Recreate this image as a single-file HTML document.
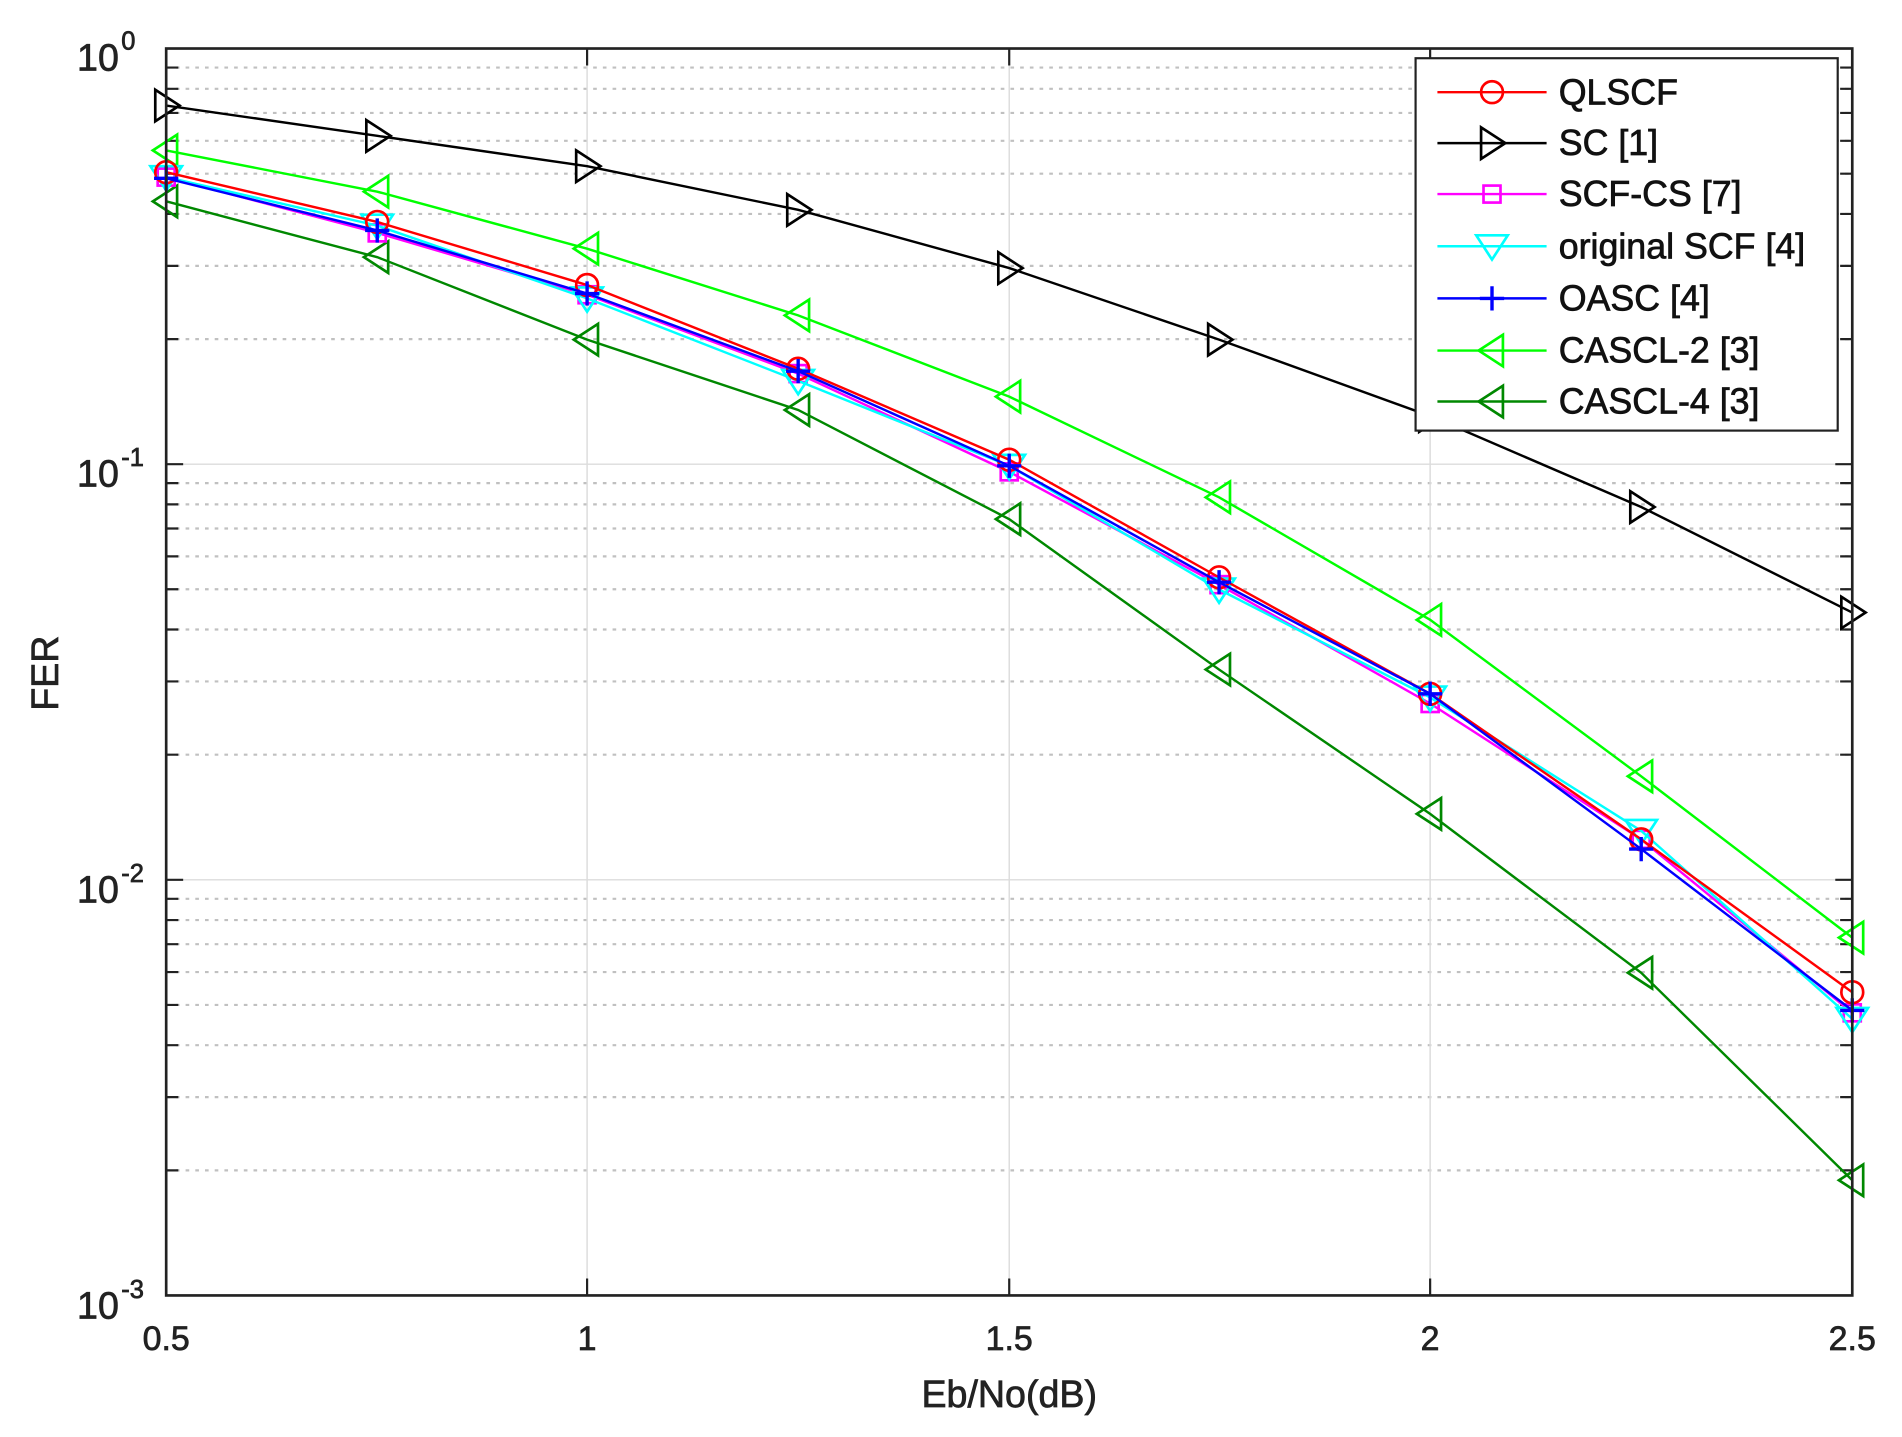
<!DOCTYPE html>
<html><head><meta charset="utf-8"><style>html,body{margin:0;padding:0;background:#fff}svg{display:block}</style></head>
<body>
<svg width="1902" height="1437" viewBox="0 0 1568 1184.7" preserveAspectRatio="none" xmlns="http://www.w3.org/2000/svg" font-family="Liberation Sans, Arial, sans-serif">
<defs>
<marker id="mc" markerUnits="userSpaceOnUse" markerWidth="30" markerHeight="30" refX="15" refY="15" overflow="visible"><circle cx="15" cy="15" r="9" fill="none" stroke="#f00" stroke-width="2.2"/></marker>
<marker id="mr" markerUnits="userSpaceOnUse" markerWidth="30" markerHeight="30" refX="15" refY="15" overflow="visible"><polygon points="6,2 26,15 6,28" fill="none" stroke="#000" stroke-width="2.2"/></marker>
<marker id="ms" markerUnits="userSpaceOnUse" markerWidth="30" markerHeight="30" refX="15" refY="15" overflow="visible"><rect x="8" y="8" width="14" height="14" fill="none" stroke="#f0f" stroke-width="2.2"/></marker>
<marker id="md" markerUnits="userSpaceOnUse" markerWidth="30" markerHeight="30" refX="15" refY="15" overflow="visible"><polygon points="2,6 28,6 15,26" fill="none" stroke="#0ff" stroke-width="2.2"/></marker>
<marker id="mp" markerUnits="userSpaceOnUse" markerWidth="30" markerHeight="30" refX="15" refY="15" overflow="visible"><path d="M5,15H25M15,5V25" stroke="#00f" stroke-width="2.8"/></marker>
<marker id="ml" markerUnits="userSpaceOnUse" markerWidth="30" markerHeight="30" refX="15" refY="15" overflow="visible"><polygon points="24,2 4,15 24,28" fill="none" stroke="#0f0" stroke-width="2.2"/></marker>
<marker id="mg" markerUnits="userSpaceOnUse" markerWidth="30" markerHeight="30" refX="15" refY="15" overflow="visible"><polygon points="24,2 4,15 24,28" fill="none" stroke="#080" stroke-width="2.2"/></marker>
</defs>
<rect x="137" y="40" width="1390" height="1028" fill="#fff"/>
<g stroke="#c0c0c0" stroke-width="1.8" stroke-dasharray="3,5">
<path d="M137 279.6H1527M137 219.2H1527M137 176.4H1527M137 143.2H1527M137 116.1H1527M137 93.1H1527M137 73.2H1527M137 55.7H1527"/>
<path d="M137 622.2H1527M137 561.8H1527M137 519H1527M137 485.8H1527M137 458.7H1527M137 435.7H1527M137 415.8H1527M137 398.3H1527"/>
<path d="M137 964.9H1527M137 904.5H1527M137 861.7H1527M137 828.5H1527M137 801.4H1527M137 778.4H1527M137 758.5H1527M137 741H1527"/>
</g>
<g stroke="#dcdcdc" stroke-width="1.2">
<path d="M137 382.67H1527M137 725.33H1527M484 40V1068M832 40V1068M1179 40V1068"/>
</g>
<g stroke="#222" stroke-width="1.8">
<path d="M137 279.6h10M137 219.2h10M137 176.4h10M137 143.2h10M137 116.1h10M137 93.1h10M137 73.2h10M137 55.7h10M137 622.2h10M137 561.8h10M137 519h10M137 485.8h10M137 458.7h10M137 435.7h10M137 415.8h10M137 398.3h10M137 964.9h10M137 904.5h10M137 861.7h10M137 828.5h10M137 801.4h10M137 778.4h10M137 758.5h10M137 741h10M137 382.67h14M137 725.33h14"/>
<path d="M1527 279.6h-10M1527 219.2h-10M1527 176.4h-10M1527 143.2h-10M1527 116.1h-10M1527 93.1h-10M1527 73.2h-10M1527 55.7h-10M1527 622.2h-10M1527 561.8h-10M1527 519h-10M1527 485.8h-10M1527 458.7h-10M1527 435.7h-10M1527 415.8h-10M1527 398.3h-10M1527 964.9h-10M1527 904.5h-10M1527 861.7h-10M1527 828.5h-10M1527 801.4h-10M1527 778.4h-10M1527 758.5h-10M1527 741h-10M1527 382.67h-14M1527 725.33h-14"/>
<path d="M484 1068v-14M832 1068v-14M1179 1068v-14M484 40v14M832 40v14M1179 40v14"/>
</g>
<g fill="none" stroke-width="2">
<polyline stroke="#000" marker-start="url(#mr)" marker-mid="url(#mr)" marker-end="url(#mr)" points="137,87 311,112 484,137 658,173 832,221 1005,280 1179,343 1353,418 1527,505"/>
<polyline stroke="#0f0" marker-start="url(#ml)" marker-mid="url(#ml)" marker-end="url(#ml)" points="137,124 311,158 484,205 658,260 832,327 1005,410 1179,511 1353,640 1527,773"/>
<polyline stroke="#080" marker-start="url(#mg)" marker-mid="url(#mg)" marker-end="url(#mg)" points="137,166 311,212 484,280 658,338 832,428 1005,552 1179,671 1353,802 1527,973"/>
<polyline stroke="#f0f" marker-start="url(#ms)" marker-mid="url(#ms)" marker-end="url(#ms)" points="137,146 311,192 484,243 658,308 832,389 1005,482 1179,580 1353,692 1527,835"/>
<polyline stroke="#0ff" marker-start="url(#md)" marker-mid="url(#md)" marker-end="url(#md)" points="137,146 311,186 484,246 658,314 832,384 1005,486 1179,575 1353,685 1527,840"/>
<polyline stroke="#f00" marker-start="url(#mc)" marker-mid="url(#mc)" marker-end="url(#mc)" points="137,142 311,183 484,235 658,304 832,379 1005,476 1179,572 1353,692 1527,818"/>
<polyline stroke="#00f" marker-start="url(#mp)" marker-mid="url(#mp)" marker-end="url(#mp)" points="137,147 311,190 484,242 658,306 832,384 1005,480 1179,572 1353,700 1527,833"/>
</g>
<rect x="137" y="40" width="1390" height="1028" fill="none" stroke="#222" stroke-width="2.2"/>
<g fill="#222" stroke="#222" stroke-width="0.6" font-size="28">
<text x="98" y="58" text-anchor="end" font-size="31">10</text><text x="100" y="41" font-size="21">0</text>
<text x="98" y="401" text-anchor="end" font-size="31">10</text><text x="100" y="384" font-size="21">-1</text>
<text x="98" y="744" text-anchor="end" font-size="31">10</text><text x="100" y="727" font-size="21">-2</text>
<text x="98" y="1087" text-anchor="end" font-size="31">10</text><text x="100" y="1070" font-size="21">-3</text>
<text x="137" y="1113" text-anchor="middle">0.5</text>
<text x="484" y="1113" text-anchor="middle">1</text>
<text x="832" y="1113" text-anchor="middle">1.5</text>
<text x="1179" y="1113" text-anchor="middle">2</text>
<text x="1527" y="1113" text-anchor="middle">2.5</text>
<text x="832" y="1160" text-anchor="middle" font-size="31">Eb/No(dB)</text>
<text transform="translate(48,555) rotate(-90)" text-anchor="middle" font-size="31">FER</text>
</g>
<rect x="1167" y="48" width="348" height="307" fill="#fff" stroke="#222" stroke-width="1.8"/>
<g stroke-width="2" fill="none">
<polyline points="1185,76 1230,76 1275,76" stroke="#f00" marker-mid="url(#mc)"/>
<polyline points="1185,118 1230,118 1275,118" stroke="#000" marker-mid="url(#mr)"/>
<polyline points="1185,160 1230,160 1275,160" stroke="#f0f" marker-mid="url(#ms)"/>
<polyline points="1185,203 1230,203 1275,203" stroke="#0ff" marker-mid="url(#md)"/>
<polyline points="1185,246 1230,246 1275,246" stroke="#00f" marker-mid="url(#mp)"/>
<polyline points="1185,289 1230,289 1275,289" stroke="#0f0" marker-mid="url(#ml)"/>
<polyline points="1185,331 1230,331 1275,331" stroke="#080" marker-mid="url(#mg)"/>
</g>
<g fill="#111" stroke="#111" stroke-width="0.6" font-size="29.5">
<text x="1285" y="86">QLSCF</text>
<text x="1285" y="128">SC [1]</text>
<text x="1285" y="170">SCF-CS [7]</text>
<text x="1285" y="213">original SCF [4]</text>
<text x="1285" y="256">OASC [4]</text>
<text x="1285" y="299">CASCL-2 [3]</text>
<text x="1285" y="341">CASCL-4 [3]</text>
</g>
</svg>
</body></html>
